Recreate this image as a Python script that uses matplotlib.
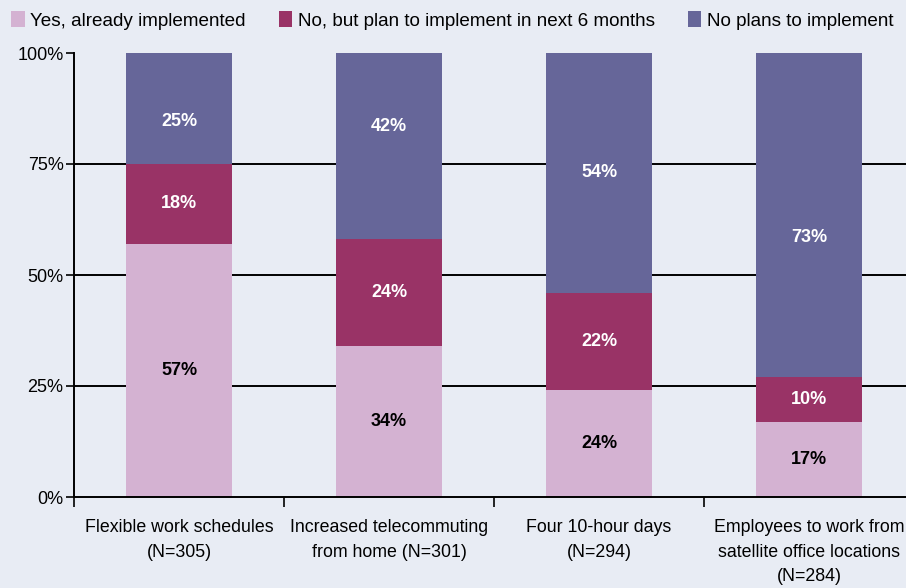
import numpy as np
import matplotlib
matplotlib.use('Agg')
import matplotlib.pyplot as plt
from matplotlib.patches import Patch

# Data
categories = ['Flexible work schedules\n(N=305)',
              'Increased telecommuting\nfrom home (N=301)',
              'Four 10-hour days\n(N=294)',
              'Employees to work from\nsatellite office locations\n(N=284)']
series_names = ['Yes, already implemented',
                'No, but plan to implement in next 6 months',
                'No plans to implement']
yes_vals = [57, 34, 24, 17]
plan_vals = [18, 24, 22, 10]
no_vals = [25, 42, 54, 73]
# where the original chart put the labels of the top segment (in % units)
no_label_pos = [84.5, 83.5, 73, 58.5]
y_ticks = [0, 25, 50, 75, 100]
y_tick_labels = ['0%', '25%', '50%', '75%', '100%']

colors = ['#D4B2D2', '#993366', '#666699']
label_colors = ['black', 'white', 'white']
bg = '#E8ECF4'

plt.rcParams['font.family'] = ['Liberation Sans', 'DejaVu Sans']

fig = plt.figure(figsize=(9.06, 5.88), dpi=100, facecolor=bg)
ax = fig.add_axes([74 / 906, 91 / 588, 840 / 906, 444 / 588])
ax.set_facecolor(bg)

x = np.arange(len(categories))
bottom = np.zeros(len(categories))
for i, (vals, col, lc) in enumerate(zip([yes_vals, plan_vals, no_vals], colors, label_colors)):
    vals = np.array(vals)
    ax.bar(x, vals, width=0.505, bottom=bottom, color=col, zorder=2)
    for j, (xi, b, v) in enumerate(zip(x, bottom, vals)):
        ypos = no_label_pos[j] if i == 2 else b + v / 2
        ax.text(xi, ypos, f'{v}%', ha='center', va='center', color=lc,
                fontsize=13, fontweight='bold', zorder=3)
    bottom += vals

ax.set_xlim(-0.5, 3.5)
ax.set_ylim(0, 100)
ax.set_yticks(y_ticks)
ax.set_yticklabels(y_tick_labels, fontsize=13)
for yv in [25, 50, 75]:
    ax.axhline(yv, color='black', lw=1.4, zorder=1)

ax.set_xticks(x)
ax.set_xticklabels(categories, fontsize=12.8, linespacing=1.58)
ax.tick_params(axis='x', which='major', length=0, pad=16)
ax.set_xticks(np.arange(-0.5, 4, 1), minor=True)
ax.tick_params(axis='x', which='minor', length=7, width=1.2, direction='out')
ax.tick_params(axis='y', length=6, width=1.2, direction='out', pad=1.5)

for s in ['top', 'right']:
    ax.spines[s].set_visible(False)
for s in ['left', 'bottom']:
    ax.spines[s].set_linewidth(1.4)

handles = [Patch(facecolor=c, edgecolor='none') for c in colors]
fig.legend(handles, series_names, loc='upper left', bbox_to_anchor=(0.0, 1.0),
           ncol=3, frameon=False, handlelength=0.7, handleheight=0.9,
           handletextpad=0.3, columnspacing=1.75, borderaxespad=0.2,
           fontsize=13.6)

fig.savefig('out.png', dpi=100, facecolor=bg)
